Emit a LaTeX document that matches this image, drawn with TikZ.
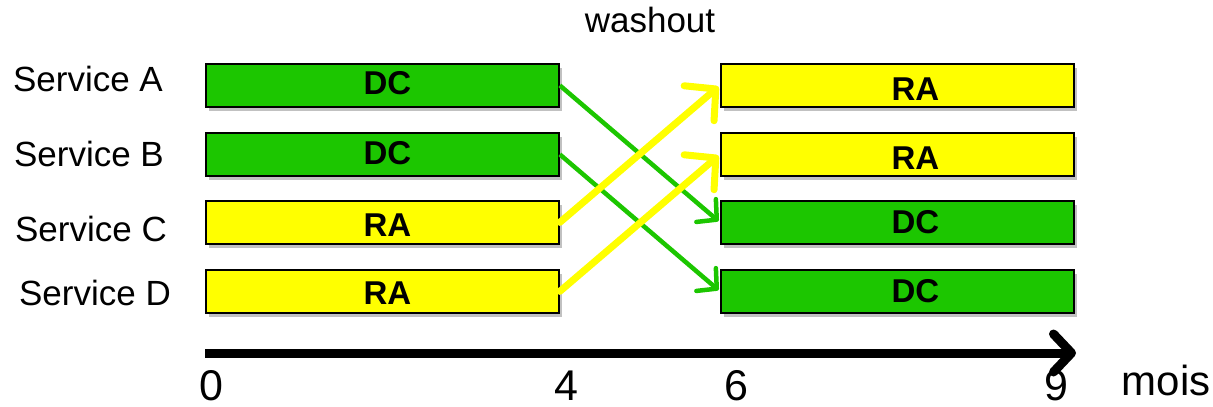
\documentclass[tikz,border=0pt]{standalone}
\usepackage{fontspec}
\setmainfont{Liberation Sans}
\usetikzlibrary{arrows.meta,shadows,calc}
\definecolor{dcgreen}{RGB}{28,198,0}
\definecolor{rayellow}{RGB}{255,255,0}
\tikzset{
  period/.style={draw=black, line width=1.8pt, minimum width=353pt, minimum height=43pt,
    inner sep=0pt, anchor=north west,
    drop shadow={shadow xshift=3pt, shadow yshift=-4pt, opacity=0.35, fill=black!70}},
  dcbox/.style={period, fill=dcgreen},
  rabox/.style={period, fill=rayellow},
  boxtext/.style={font=\fontsize{33}{36}\selectfont\bfseries, inner sep=0pt},
  service/.style={font=\fontsize{35}{40}\selectfont, inner sep=0pt, anchor=base},
  tick/.style={font=\fontsize{43}{46}\selectfont, inner sep=0pt, anchor=base},
  greenarrow/.style={draw=dcgreen, line width=4.5pt, shorten >=2pt,
    -{Straight Barb[length=14pt, width=30pt, round]}},
  yellowarrow/.style={draw=rayellow, line width=7pt, line cap=round, shorten >=2pt,
    -{Straight Barb[length=22pt, width=46pt, round]}},
}
\begin{document}
\begin{tikzpicture}[x=1pt, y=-1pt]
\useasboundingbox (0,0) rectangle (1213,407);

% labels of the four services
\node[service] (sA) at (88,91)  {Service A};
\node[service] (sB) at (89,166) {Service B};
\node[service] (sC) at (91,241) {Service C};
\node[service] (sD) at (95,305) {Service D};

\node[service] (wash) at (650,32) {washout};

% first period (months 0 to 4)
\node[dcbox] (lA) at (205,63)  {};
\node[dcbox] (lB) at (205,132) {};
\node[rabox] (lC) at (205,200) {};
\node[rabox] (lD) at (205,269) {};

% second period (months 6 to 9)
\node[rabox] (rA) at (720,63)  {};
\node[rabox] (rB) at (720,132) {};
\node[dcbox] (rC) at (720,200) {};
\node[dcbox] (rD) at (720,269) {};

\node[boxtext] (tlA) at ($(lA.center)+(5,-2)$) {DC};
\node[boxtext] (tlB) at ($(lB.center)+(5,-1)$) {DC};
\node[boxtext] (tlC) at ($(lC.center)+(5,3)$)  {RA};
\node[boxtext] (tlD) at ($(lD.center)+(5,2)$)  {RA};
\node[boxtext] (trA) at ($(rA.center)+(18,4)$) {RA};
\node[boxtext] (trB) at ($(rB.center)+(18,4)$) {RA};
\node[boxtext] (trC) at ($(rC.center)+(18,0)$) {DC};
\node[boxtext] (trD) at ($(rD.center)+(18,0)$) {DC};

% cross-over after the washout
\draw[greenarrow] (lA.east) -- (rC.west);
\draw[greenarrow] (lB.east) -- (rD.west);
\draw[yellowarrow] (lC.east) -- (rA.west);
\draw[yellowarrow] (lD.east) -- (rB.west);

% time axis
\coordinate (ax0) at (205,353);
\coordinate (ax1) at (1076,353);
\draw[line width=9pt, -{Straight Barb[length=18pt, width=38pt, round]}] (ax0) -- (ax1);

\node[tick] (m0) at (211,400)  {0};
\node[tick] (m4) at (566,400)  {4};
\node[tick] (m6) at (736,400)  {6};
\node[tick] (m9) at (1056,400) {9};
\node[tick, font=\fontsize{42}{46}\selectfont] (mois) at (1166,395) {mois};
\end{tikzpicture}
\end{document}
